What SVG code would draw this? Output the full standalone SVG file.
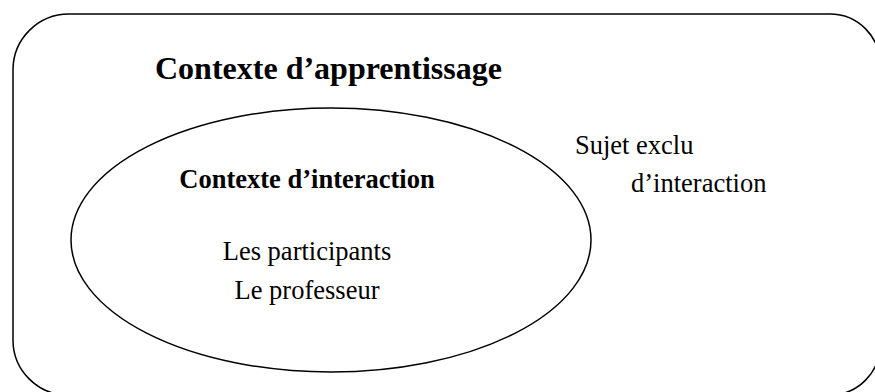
<svg xmlns="http://www.w3.org/2000/svg" width="875" height="392" viewBox="0 0 875 392">
<style>
.shape{fill:none;stroke:#000;stroke-width:1.5}
.t{font-family:"Liberation Serif","Times New Roman",serif;fill:#000}
.b{font-weight:bold}
</style>
<rect width="875" height="392" fill="#fff"/>
<g id="contexte-apprentissage">
<path class="shape" d="M 69 14 H 830 A 50 50 0 0 1 880 64 V 345 A 50 50 0 0 1 830 395 H 68 A 55 55 0 0 1 13 340 V 70 A 56 56 0 0 1 69 14 Z"/>
<text class="t b" x="155" y="79" font-size="32">Contexte d’apprentissage</text>
</g>
<g id="contexte-interaction">
<ellipse class="shape" cx="331" cy="240" rx="260" ry="132"/>
<text class="t b" x="307" y="188" font-size="26.5" text-anchor="middle">Contexte d’interaction</text>
<text class="t" x="307" y="260" font-size="26.5" text-anchor="middle">Les participants</text>
<text class="t" x="307" y="299" font-size="26.5" text-anchor="middle">Le professeur</text>
</g>
<g id="sujet-exclu">
<text class="t" x="575" y="154" font-size="26.5">Sujet exclu</text>
<text class="t" x="631" y="192" font-size="26.5">d’interaction</text>
</g>
<g id="connectors"></g>
</svg>
